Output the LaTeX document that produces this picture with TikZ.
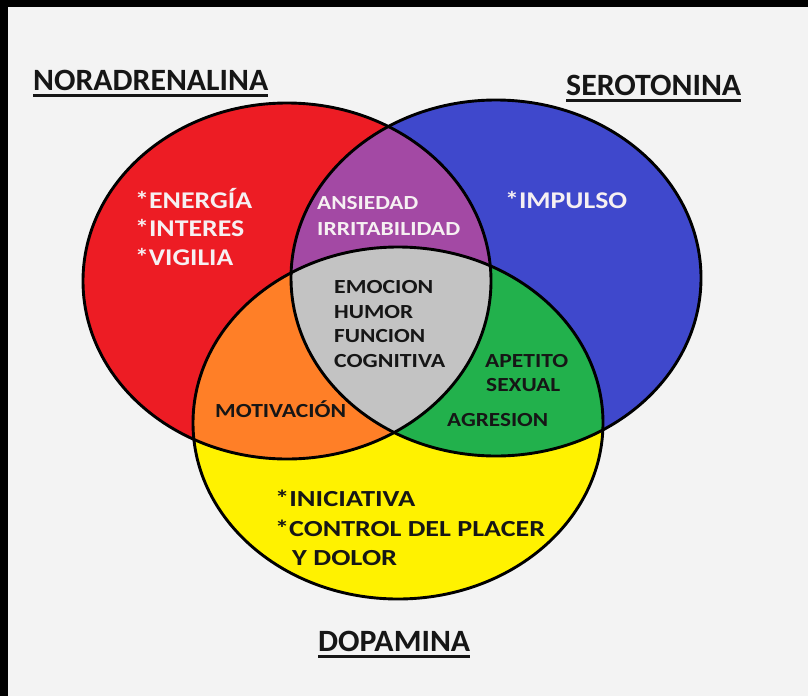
\documentclass[tikz,border=0pt]{standalone}
\usepackage{graphicx}
\usepackage{fontspec}
\setmainfont{Carlito}
\definecolor{bgc}{HTML}{F3F3F3}
\definecolor{cred}{HTML}{ED1C24}
\definecolor{cblue}{HTML}{3F48CC}
\definecolor{cyellow}{HTML}{FFF200}
\definecolor{corange}{HTML}{FF7F27}
\definecolor{cgreen}{HTML}{22B14C}
\definecolor{cpurple}{HTML}{A349A4}
\definecolor{cgrey}{HTML}{C3C3C3}
\definecolor{ink}{HTML}{161616}
\definecolor{lt}{HTML}{F6F0F2}
\newcommand{\fw}[3]{\resizebox{#1pt}{\height}{\fontsize{#2}{#2}\selectfont #3}}
\begin{document}
\begin{tikzpicture}[x=1pt,y=-1pt,
  lbl/.style={anchor=base west,inner sep=0pt,font=\bfseries},
  ttl/.style={anchor=base west,inner sep=0pt,text=ink,font=\bfseries},
  dk/.style={lbl,text=ink},
  wh/.style={lbl,text=lt},
  uline/.style={line width=3pt,draw=ink},
  outl/.style={draw=black,line width=2.9pt}]
\useasboundingbox (0,0) rectangle (808,696);
\fill[black] (0,0) rectangle (808,696);
\fill[bgc] (8,7) rectangle (808,696);
% base fills
\fill[cred] (287,281) ellipse [x radius=204,y radius=178];
\fill[cblue] (496,278) ellipse [x radius=205,y radius=178];
\fill[cyellow] (398,423) ellipse [x radius=205,y radius=176];
% pairwise overlaps
\begin{scope}
  \clip (287,281) ellipse [x radius=204,y radius=178];
  \fill[corange] (398,423) ellipse [x radius=205,y radius=176];
  \fill[cpurple] (496,278) ellipse [x radius=205,y radius=178];
\end{scope}
\begin{scope}
  \clip (496,278) ellipse [x radius=205,y radius=178];
  \fill[cgreen] (398,423) ellipse [x radius=205,y radius=176];
\end{scope}
\begin{scope}
  \clip (287,281) ellipse [x radius=204,y radius=178];
  \clip (496,278) ellipse [x radius=205,y radius=178];
  \fill[cgrey] (398,423) ellipse [x radius=205,y radius=176];
\end{scope}
% outlines
\draw[outl] (287,281) ellipse [x radius=204,y radius=178];
\draw[outl] (496,278) ellipse [x radius=205,y radius=178];
\draw[outl] (398,423) ellipse [x radius=205,y radius=176];
% titles
\node[ttl] (nor) at (33,90) {\fw{235}{31}{NORADRENALINA}};
\node[ttl] (ser) at (566,95) {\fw{175}{31}{SEROTONINA}};
\node[ttl] (dop) at (318,651) {\fw{152}{31}{DOPAMINA}};
\draw[uline] ([yshift=-5.5pt]nor.base west) -- ([yshift=-5.5pt]nor.base east);
\draw[uline] ([yshift=-5.5pt]ser.base west) -- ([yshift=-5.5pt]ser.base east);
\draw[uline] ([yshift=-5.5pt]dop.base west) -- ([yshift=-5.5pt]dop.base east);
% red
\node[wh] (en) at (135,208) {\fw{117}{24}{*ENERGÍA}};
\node[wh] (in) at (135,236) {\fw{109}{24}{*INTERES}};
\node[wh] (vi) at (135,265) {\fw{98}{24}{*VIGILIA}};
% blue
\node[wh] (im) at (505,208) {\fw{122}{24}{*IMPULSO}};
% purple
\node[wh] (an) at (317,209) {\fw{101}{20}{ANSIEDAD}};
\node[wh] (ir) at (317,235) {\fw{143}{20}{IRRITABILIDAD}};
% grey
\node[dk] (em) at (334,293) {\fw{99}{20}{EMOCION}};
\node[dk] (hu) at (334,318) {\fw{79}{20}{HUMOR}};
\node[dk] (fu) at (334,342) {\fw{91}{20}{FUNCION}};
\node[dk] (co) at (334,367) {\fw{111}{20}{COGNITIVA}};
% green
\node[dk] (ap) at (485,367) {\fw{83}{20}{APETITO}};
\node[dk] (se) at (486,391) {\fw{74}{20}{SEXUAL}};
\node[dk] (ag) at (447,426) {\fw{101}{20}{AGRESION}};
% orange
\node[dk] (mo) at (215,417) {\fw{131}{20}{MOTIVACIÓN}};
% yellow
\node[dk] (ini) at (275,506) {\fw{140}{23}{*INICIATIVA}};
\node[dk] (ctl) at (275,536) {\fw{270}{23}{*CONTROL DEL PLACER}};
\node[dk] (dol) at (292,565) {\fw{105}{23}{Y DOLOR}};
\end{tikzpicture}
\end{document}
